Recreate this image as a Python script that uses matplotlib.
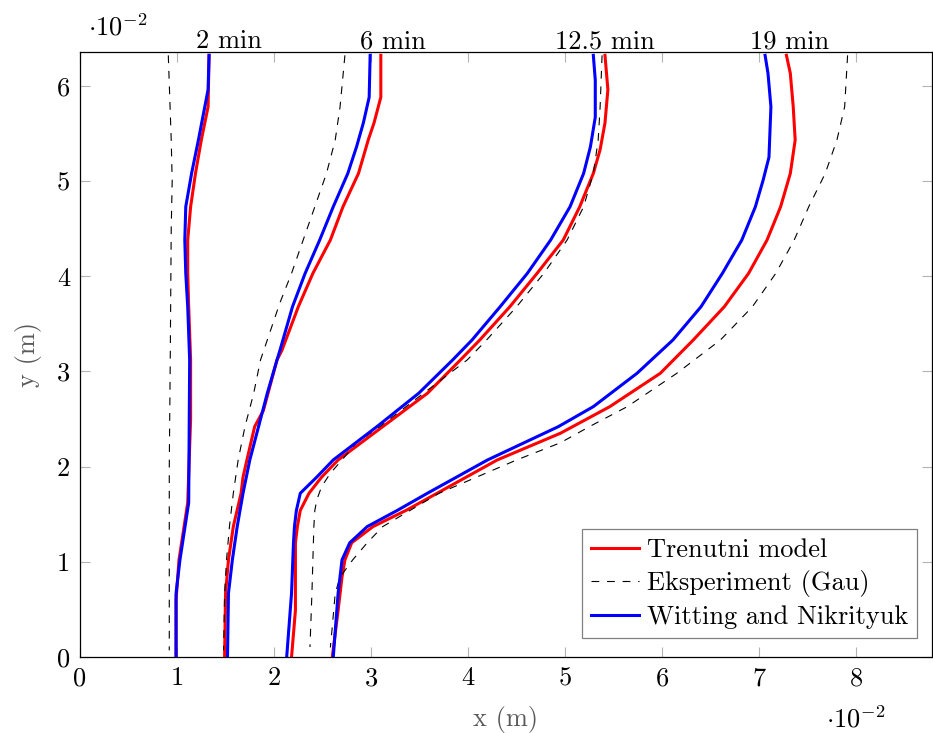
import matplotlib
matplotlib.use("Agg")
import matplotlib.pyplot as plt
import matplotlib.transforms as mtransforms

plt.rcParams['font.family'] = 'serif'
plt.rcParams['font.serif'] = ['cmr10']
plt.rcParams['mathtext.fontset'] = 'cm'
plt.rcParams['axes.unicode_minus'] = False
plt.rcParams['font.size'] = 19

# all values in units of 1e-2 m
# 2 min
y_2_red = [6.32, 5.78, 5.43, 5.08, 4.73, 4.38, 4.03, 3.68, 3.12, 2.50, 1.62, 1.02, 0.60, 0.0]
x_2_red = [1.33, 1.32, 1.25, 1.19, 1.14, 1.11, 1.11, 1.12, 1.14, 1.14, 1.11, 1.02, 0.99, 0.99]
y_2_exp = [6.32, 5.43, 5.00, 4.50, 3.12, 2.00, 1.00, 0.07]
x_2_exp = [0.91, 0.94, 0.95, 0.94, 0.93, 0.92, 0.92, 0.92]
y_2_wn = [6.32, 5.96, 5.43, 5.08, 4.73, 4.38, 4.03, 3.68, 3.12, 1.62, 1.02, 0.67, 0.0]
x_2_wn = [1.33, 1.32, 1.22, 1.15, 1.09, 1.08, 1.09, 1.11, 1.13, 1.12, 1.03, 0.99, 0.99]

# 6 min
y_6_red = [6.32, 5.88, 5.61, 5.43, 5.08, 4.73, 4.38, 4.03, 3.68, 3.22, 3.12, 2.59, 2.42,
           2.07, 1.89, 1.72, 1.37, 1.02, 0.67, 0.0]
x_6_red = [3.10, 3.10, 3.03, 2.97, 2.87, 2.71, 2.58, 2.40, 2.25, 2.08, 2.03, 1.89, 1.80,
           1.72, 1.68, 1.66, 1.58, 1.53, 1.50, 1.49]
y_6_exp = [6.32, 5.78, 5.43, 5.08, 4.73, 4.38, 4.03, 3.72, 3.12, 2.77, 2.42, 2.07, 1.72,
           1.37, 1.02, 0.67, 0.07]
x_6_exp = [2.73, 2.68, 2.63, 2.54, 2.42, 2.30, 2.18, 2.06, 1.86, 1.79, 1.70, 1.63, 1.58,
           1.54, 1.51, 1.49, 1.48]
y_6_wn = [6.32, 5.88, 5.61, 5.36, 5.08, 4.73, 4.38, 4.03, 3.68, 3.22, 3.12, 2.77, 2.42,
          2.07, 1.72, 1.37, 1.02, 0.67, 0.0]
x_6_wn = [2.99, 2.98, 2.92, 2.85, 2.76, 2.61, 2.47, 2.32, 2.19, 2.06, 2.03, 1.93, 1.84,
          1.75, 1.68, 1.62, 1.57, 1.53, 1.52]

# 12.5 min
y_12_red = [6.32, 5.96, 5.61, 5.33, 5.08, 4.73, 4.38, 4.03, 3.68, 3.33, 3.12, 2.77, 2.42,
            2.07, 1.89, 1.72, 1.54, 1.37, 1.20, 0.49, 0.0]
x_12_red = [5.41, 5.44, 5.41, 5.36, 5.29, 5.15, 4.98, 4.71, 4.43, 4.12, 3.92, 3.58, 3.12,
            2.66, 2.49, 2.36, 2.27, 2.24, 2.22, 2.22, 2.18]
y_12_exp = [6.32, 5.78, 5.43, 5.08, 4.73, 4.38, 4.03, 3.68, 3.33, 3.12, 2.77, 2.42, 2.25,
            2.07, 1.93, 1.79, 1.65, 1.54, 1.37, 1.02, 0.67, 0.105]
x_12_exp = [5.38, 5.36, 5.34, 5.29, 5.19, 5.02, 4.78, 4.50, 4.19, 3.99, 3.54, 3.09, 2.85,
            2.70, 2.58, 2.49, 2.44, 2.42, 2.41, 2.40, 2.39, 2.37]
y_12_wn = [6.32, 6.06, 5.67, 5.36, 5.08, 4.73, 4.38, 4.03, 3.68, 3.33, 3.12, 2.77, 2.42,
           2.07, 1.89, 1.72, 1.54, 1.37, 1.20, 0.67, 0.0]
x_12_wn = [5.29, 5.31, 5.31, 5.26, 5.19, 5.05, 4.85, 4.61, 4.33, 4.04, 3.84, 3.49, 3.06,
           2.61, 2.44, 2.27, 2.23, 2.21, 2.20, 2.18, 2.13]

# 19 min
y_19_red = [6.32, 6.13, 5.78, 5.43, 5.08, 4.73, 4.38, 4.03, 3.68, 3.33, 2.98, 2.63, 2.35,
            2.07, 1.72, 1.54, 1.37, 1.20, 1.02, 0.84, 0.49, 0.0]
x_19_red = [7.28, 7.32, 7.35, 7.37, 7.32, 7.22, 7.08, 6.89, 6.64, 6.32, 5.98, 5.46, 4.95,
            4.30, 3.68, 3.36, 3.02, 2.80, 2.73, 2.70, 2.66, 2.60]
y_19_exp = [6.32, 5.78, 5.43, 5.08, 4.73, 4.38, 4.03, 3.68, 3.33, 2.98, 2.63, 2.42, 2.25,
            2.07, 1.72, 1.37, 1.20, 1.02, 0.84, 0.67, 0.32, 0.1]
x_19_exp = [7.91, 7.88, 7.80, 7.68, 7.51, 7.36, 7.17, 6.93, 6.60, 6.15, 5.64, 5.25, 4.95,
            4.50, 3.70, 3.12, 2.96, 2.81, 2.68, 2.63, 2.60, 2.58]
y_19_wn = [6.32, 6.13, 5.78, 5.25, 5.01, 4.73, 4.38, 4.03, 3.68, 3.33, 2.98, 2.63, 2.42,
           2.07, 1.72, 1.54, 1.37, 1.20, 1.02, 0.67, 0.0]
x_19_wn = [7.06, 7.09, 7.12, 7.10, 7.04, 6.96, 6.82, 6.62, 6.40, 6.11, 5.74, 5.29, 4.93,
           4.20, 3.58, 3.27, 2.96, 2.78, 2.70, 2.66, 2.61]

time_labels = ["2 min", "6 min", "12.5 min", "19 min"]
time_label_x = [1.536, 3.23, 5.41, 7.31]

red_curves = [(x_2_red, y_2_red), (x_6_red, y_6_red), (x_12_red, y_12_red), (x_19_red, y_19_red)]
exp_curves = [(x_2_exp, y_2_exp), (x_6_exp, y_6_exp), (x_12_exp, y_12_exp), (x_19_exp, y_19_exp)]
wn_curves = [(x_2_wn, y_2_wn), (x_6_wn, y_6_wn), (x_12_wn, y_12_wn), (x_19_wn, y_19_wn)]

fig = plt.figure(figsize=(9.33, 7.33), dpi=100)
ax = fig.add_axes([80/933, 76/733, 852/933, 605/733])

for i in range(4):
    xr, yr = red_curves[i]
    xe, ye = exp_curves[i]
    xw, yw = wn_curves[i]
    ax.plot(xr, yr, color='#ff0000', lw=2.2, solid_joinstyle='round',
            label="Trenutni model" if i == 0 else None)
    ax.plot(xe, ye, color='black', lw=0.8, dashes=(7, 7),
            label="Eksperiment (Gau)" if i == 0 else None)
    ax.plot(xw, yw, color='#0000ff', lw=2.2, solid_joinstyle='round',
            label="Witting and Nikrityuk" if i == 0 else None)

ax.set_xlim(0, 8.78)
ax.set_ylim(0, 6.355)
ax.set_xticks(range(0, 9))
ax.set_yticks(range(0, 7))
ax.tick_params(direction='in', length=7.5, width=0.8, color='#b4b4b4',
               top=True, right=True, pad=7, labelsize=19)
for s in ax.spines.values():
    s.set_linewidth(0.9)

ax.set_xlabel("x (m)", color='#5a5a5a', fontsize=19, labelpad=11)
ax.set_ylabel("y (m)", color='#5a5a5a', fontsize=19, labelpad=11)

trans = mtransforms.blended_transform_factory(ax.transData, ax.transAxes)
for lbl, xp in zip(time_labels, time_label_x):
    ax.text(xp, 1.006, lbl, transform=trans, ha='center', va='baseline', fontsize=19)

fig.text(88/933, 1 - 35/733, r'$\cdot10^{-2}$', fontsize=19, ha='left', va='baseline')
fig.text(826/933, 1 - 727/733, r'$\cdot10^{-2}$', fontsize=19, ha='left', va='baseline')

leg = ax.legend(loc='lower right', bbox_to_anchor=((917-80)/852, (657-638)/605),
                borderaxespad=0, fancybox=False, edgecolor='#808080',
                handlelength=1.8, handletextpad=0.3, borderpad=0.35,
                labelspacing=0.3, fontsize=19, framealpha=1)
leg.get_frame().set_linewidth(0.9)

fig.savefig("out.png", dpi=100)
